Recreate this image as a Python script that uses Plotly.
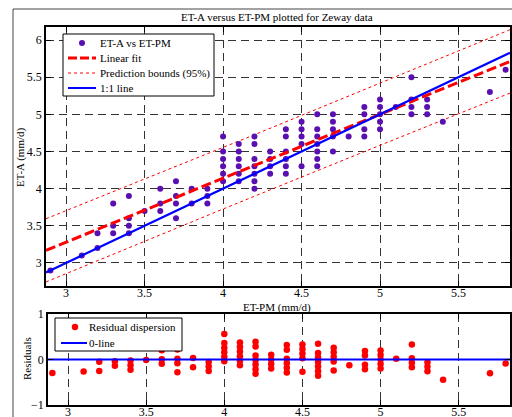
import numpy as np
import plotly.graph_objects as go

# ---- data (ET-PM vs ET-A, mm/d) ----
ET_PM = [2.9, 3.1, 3.2, 3.2, 3.3, 3.3, 3.3, 3.4, 3.4, 3.4, 3.4, 3.5,
         3.6, 3.6, 3.6, 3.7, 3.7, 3.7, 3.7, 3.8, 3.8, 3.9, 3.9, 3.9,
         4.0, 4.0, 4.0, 4.0, 4.0, 4.0,
         4.1, 4.1, 4.1, 4.1, 4.1, 4.1,
         4.2, 4.2, 4.2, 4.2, 4.2, 4.2, 4.2,
         4.3, 4.3, 4.3, 4.3,
         4.4, 4.4, 4.4, 4.4, 4.4, 4.4,
         4.5, 4.5, 4.5, 4.5, 4.5,
         4.6, 4.6, 4.6, 4.6, 4.6, 4.6, 4.6,
         4.7, 4.7, 4.7, 4.7, 4.7,
         4.8,
         4.9, 4.9, 4.9, 4.9,
         5.0, 5.0, 5.0, 5.0, 5.0,
         5.1,
         5.2, 5.2, 5.2, 5.2,
         5.3, 5.3, 5.3,
         5.4, 5.7, 5.8]
ET_A = [2.9, 3.1, 3.4, 3.2, 3.8, 3.5, 3.4, 3.9, 3.6, 3.5, 3.4, 3.7,
        4.0, 3.8, 3.7, 4.1, 3.9, 3.8, 3.6, 4.0, 3.8, 4.0, 3.9, 3.8,
        4.7, 4.5, 4.4, 4.3, 4.2, 4.1,
        4.6, 4.5, 4.4, 4.3, 4.2, 4.1,
        4.7, 4.6, 4.4, 4.3, 4.2, 4.1, 4.0,
        4.5, 4.4, 4.3, 4.2,
        4.8, 4.7, 4.5, 4.4, 4.3, 4.2,
        4.9, 4.8, 4.7, 4.6, 4.3,
        5.0, 4.8, 4.7, 4.6, 4.5, 4.4, 4.3,
        5.0, 4.9, 4.8, 4.7, 4.5,
        4.7,
        5.1, 5.0, 4.8, 4.7,
        5.2, 5.1, 5.0, 4.9, 4.8,
        5.1,
        5.5, 5.2, 5.1, 5.0,
        5.2, 5.1, 5.0,
        4.9, 5.3, 5.6]

# linear fit (ET-A = slope * ET-PM + intercept)
FIT_SLOPE = 0.86
FIT_INTERCEPT = 0.70
T95 = 1.987  # Student t, 95%, df = n-2

X_RANGE = [2.872, 5.828]
Y_RANGE = [2.69, 6.175]
R_RANGE = [-1, 1]
X_TICKS = [3, 3.5, 4, 4.5, 5, 5.5]
Y_TICKS = [3, 3.5, 4, 4.5, 5, 5.5, 6]
R_TICKS = [-1, 0, 1]

LEGEND1 = ["ET-A vs ET-PM", "Linear fit", "Prediction bounds (95%)", "1:1 line"]
LEGEND2 = ["Residual dispersion", "0-line"]

x = np.array(ET_PM)
y = np.array(ET_A)
n = len(x)
resid = y - (FIT_INTERCEPT + FIT_SLOPE * x)
s = np.sqrt(np.sum(resid ** 2) / (n - 2))
xbar = x.mean()
sxx = np.sum((x - xbar) ** 2)

xs = np.linspace(X_RANGE[0], X_RANGE[1], 200)
yfit = FIT_INTERCEPT + FIT_SLOPE * xs
half = T95 * s * np.sqrt(1 + 1 / n + (xs - xbar) ** 2 / sxx)

FONT = "Liberation Serif"
FS = 11
FS_TICK = 12
W, H = 512, 417
PURPLE = "#5a0fb0"

def px_x(p):
    return p / W

def px_y(p):
    return 1 - p / H

fig = go.Figure()

# main panel
fig.add_trace(go.Scatter(x=xs, y=yfit + half, mode="lines",
                         name=LEGEND1[2],
                         line=dict(color="red", width=1, dash="dot"),
                         xaxis="x", yaxis="y"))
fig.add_trace(go.Scatter(x=xs, y=yfit - half, mode="lines",
                         name=LEGEND1[2],
                         line=dict(color="red", width=1, dash="dot"),
                         xaxis="x", yaxis="y"))
fig.add_trace(go.Scatter(x=x, y=y, mode="markers", name=LEGEND1[0],
                         marker=dict(color=PURPLE, size=6),
                         xaxis="x", yaxis="y"))
fig.add_trace(go.Scatter(x=xs, y=yfit, mode="lines", name=LEGEND1[1],
                         line=dict(color="red", width=3, dash="10px,4px"),
                         xaxis="x", yaxis="y"))
fig.add_trace(go.Scatter(x=xs, y=xs, mode="lines", name=LEGEND1[3],
                         line=dict(color="blue", width=2.2),
                         xaxis="x", yaxis="y"))

# residual panel
fig.add_trace(go.Scatter(x=x, y=resid, mode="markers", name=LEGEND2[0],
                         marker=dict(color="red", size=6.5),
                         xaxis="x2", yaxis="y2"))
fig.add_trace(go.Scatter(x=X_RANGE, y=[0, 0], mode="lines", name=LEGEND2[1],
                         line=dict(color="blue", width=2),
                         xaxis="x2", yaxis="y2"))

axis_common = dict(
    showline=True, linecolor="black", linewidth=1.5, mirror="allticks",
    ticks="inside", ticklen=5, tickcolor="black", tickwidth=1,
    showgrid=True, gridcolor="#333", gridwidth=1, griddash="8px,5px",
    zeroline=False, tickfont=dict(family=FONT, size=FS_TICK, color="black"),
    automargin=False,
)

fig.update_layout(
    width=W, height=H, margin=dict(l=0, r=0, t=0, b=0),
    paper_bgcolor="white", plot_bgcolor="white",
    font=dict(family=FONT, size=FS, color="black"),
    xaxis=dict(domain=[px_x(46), px_x(510)], range=X_RANGE, tickvals=X_TICKS,
               anchor="y", ticklabelstandoff=-5, **axis_common),
    yaxis=dict(domain=[px_y(286), px_y(27)], range=Y_RANGE, tickvals=Y_TICKS,
               anchor="x", **axis_common),
    xaxis2=dict(domain=[px_x(48), px_x(510)], range=X_RANGE, tickvals=X_TICKS,
                anchor="y2", ticklabelstandoff=-5, **axis_common),
    yaxis2=dict(domain=[px_y(405), px_y(314)], range=R_RANGE, tickvals=R_TICKS,
                anchor="x2", **axis_common),
    showlegend=False,
)

# outer figure frame
fig.add_shape(type="rect", xref="paper", yref="paper",
              x0=px_x(13), x1=1.05, y0=-0.05, y1=px_y(9),
              line=dict(color="#444", width=1), layer="below")

ann = dict(xref="paper", yref="paper", showarrow=False,
           font=dict(family=FONT, size=FS, color="black"))
fig.add_annotation(text="ET-A versus ET-PM plotted for Zeway data",
                   x=px_x(277), y=px_y(17), xanchor="center", yanchor="middle", **ann)
fig.add_annotation(text="ET-PM (mm/d)", x=px_x(277), y=px_y(307),
                   xanchor="center", yanchor="middle", **ann)
fig.add_annotation(text="ET-A (mm/d)", x=px_x(20), y=px_y(157), textangle=-90,
                   xanchor="center", yanchor="middle", **ann)
fig.add_annotation(text="Residuals", x=px_x(27), y=px_y(359), textangle=-90,
                   xanchor="center", yanchor="middle", **ann)

# ---- legend boxes (MATLAB style, compact rows) ----
def legend_box(x0, y0, x1, y1):
    fig.add_shape(type="rect", xref="paper", yref="paper",
                  x0=px_x(x0), x1=px_x(x1), y0=px_y(y1), y1=px_y(y0),
                  fillcolor="white", line=dict(color="black", width=1),
                  layer="above")

def legend_line(x0, x1, yy, color, width, dash="solid"):
    fig.add_shape(type="line", xref="paper", yref="paper",
                  x0=px_x(x0), x1=px_x(x1), y0=px_y(yy), y1=px_y(yy),
                  line=dict(color=color, width=width, dash=dash), layer="above")

def legend_dot(cx, cy, r, color):
    fig.add_shape(type="circle", xref="paper", yref="paper",
                  x0=px_x(cx - r), x1=px_x(cx + r),
                  y0=px_y(cy + r), y1=px_y(cy - r),
                  fillcolor=color, line=dict(color=color, width=0), layer="above")

def legend_text(tx, ty, text):
    fig.add_annotation(text=text, x=px_x(tx), y=px_y(ty), xanchor="left",
                       yanchor="middle", xref="paper", yref="paper",
                       showarrow=False,
                       font=dict(family=FONT, size=FS, color="black"))

legend_box(63, 34, 214, 96)
rows1 = [43, 58, 73, 88]
legend_dot(82, rows1[0], 3, PURPLE)
legend_line(68, 96, rows1[1], "red", 3, "9px,3px")
legend_line(68, 96, rows1[2], "red", 1, "dot")
legend_line(68, 96, rows1[3], "blue", 2)
for ty, t in zip(rows1, LEGEND1):
    legend_text(98, ty, t)

legend_box(55, 318, 182, 351)
rows2 = [327, 343]
legend_dot(75, rows2[0], 3.2, "red")
legend_line(61, 87, rows2[1], "blue", 2)
for ty, t in zip(rows2, LEGEND2):
    legend_text(87, ty, t)

fig.write_html("out.html")
